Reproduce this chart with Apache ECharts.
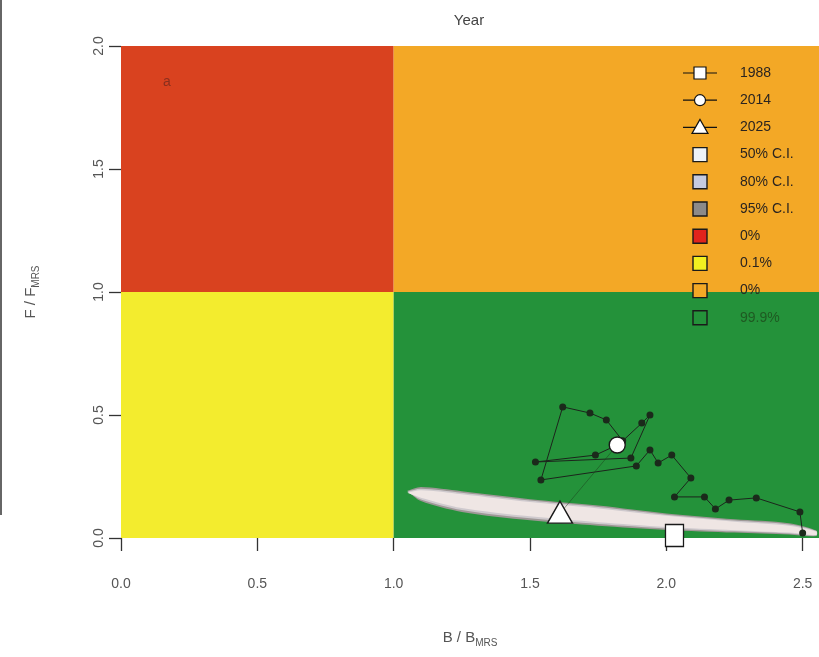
<!DOCTYPE html>
<html>
<head>
<meta charset="utf-8">
<script src="https://cdn.jsdelivr.net/npm/echarts@6/dist/echarts.min.js"></script>
<style>
  html, body { margin: 0; padding: 0; background: #ffffff; }
  #chart { width: 819px; height: 657px; }
</style>
</head>
<body>
<div id="chart"></div>
<script>
// Kobe phase plot: stock status B/B_MRS against fishing pressure F/F_MRS

// Quadrant bounds: [B from, B to, F from, F to]
const zoneBounds = [
  [0, 1, 1, 2],
  [1, 2.56, 1, 2],
  [0, 1, 0, 1],
  [1, 2.56, 0, 1]
];
const zoneNames = ['0%', '0%', '0.1%', '99.9%'];

// Historical trajectory (B/B_MRS, F/F_MRS), ending at the 2014 point
const trajB = [2.50, 2.49, 2.33, 2.23, 2.18, 2.14, 2.03, 2.09, 2.02, 1.97, 1.94, 1.89,
               1.54, 1.62, 1.72, 1.78, 1.84, 1.91, 1.94, 1.87, 1.52, 1.74, 1.82];
const trajF = [0.02, 0.106, 0.163, 0.154, 0.118, 0.167, 0.167, 0.244, 0.337, 0.305, 0.358, 0.293,
               0.236, 0.533, 0.508, 0.480, 0.395, 0.467, 0.500, 0.325, 0.309, 0.337, 0.378];

// Projection from 2014 to 2025
const projB = [1.82, 1.61];
const projF = [0.378, 0.10];

// Highlighted years
const markYears = ['1988', '2014', '2025'];
const markB = [2.03, 1.82, 1.61];
const markF = [0.01, 0.378, 0.105];

// Confidence regions of the projected state: upper and lower edges
const ciB = [1.05, 1.10, 1.25, 1.50, 1.75, 2.00, 2.25, 2.45, 2.55];
const ci95Up = [0.192, 0.207, 0.190, 0.158, 0.132, 0.100, 0.076, 0.060, 0.030];
const ci95Lo = [0.192, 0.150, 0.106, 0.072, 0.050, 0.033, 0.022, 0.014, 0.008];
const ci80Up = [0.188, 0.200, 0.184, 0.152, 0.126, 0.095, 0.071, 0.055, 0.028];
const ci80Lo = [0.188, 0.157, 0.114, 0.080, 0.057, 0.039, 0.027, 0.018, 0.010];
const ci50Up = [0.184, 0.194, 0.178, 0.146, 0.120, 0.090, 0.066, 0.050, 0.026];
const ci50Lo = [0.184, 0.164, 0.122, 0.088, 0.064, 0.045, 0.032, 0.022, 0.012];

// Tick values
const xTicks = [0, 0.5, 1.0, 1.5, 2.0, 2.5];
const yTicks = [0, 0.5, 1.0, 1.5, 2.0];

const zoneColors = ['#d9421f', '#f3a826', '#f3ec2e', '#24923a'];

function band(up, lo) {
  const pts = [];
  for (let i = 0; i < ciB.length; i++) pts.push([ciB[i], up[i]]);
  for (let i = ciB.length - 1; i >= 0; i--) pts.push([ciB[i], lo[i]]);
  return pts;
}

function bandSeries(name, up, lo, fill) {
  const pts = band(up, lo);
  return {
    name: name,
    type: 'custom',
    coordinateSystem: 'cartesian2d',
    silent: true,
    z: 3,
    data: [0],
    renderItem: function (params, api) {
      return {
        type: 'polygon',
        shape: { points: pts.map(p => api.coord(p)), smooth: 0.3 },
        style: { fill: fill, stroke: null }
      };
    }
  };
}

const chart = echarts.init(document.getElementById('chart'), null, { renderer: 'canvas' });

const labelColor = '#555555';
const font = 'Liberation Sans, Arial, sans-serif';

// Legend rows drawn as graphics
const legendTop = 73, legendStep = 27.2, legendX = 683, legendTextX = 740;
const legendItems = [
  { kind: 'line', sym: 'square', text: '1988' },
  { kind: 'line', sym: 'circle', text: '2014' },
  { kind: 'line', sym: 'triangle', text: '2025' },
  { kind: 'box', fill: '#eef3f7', text: '50% C.I.' },
  { kind: 'box', fill: '#c6cbe0', text: '80% C.I.' },
  { kind: 'box', fill: '#8c8a88', text: '95% C.I.' },
  { kind: 'box', fill: '#e0231c', text: '0%' },
  { kind: 'box', fill: '#f2f020', text: '0.1%' },
  { kind: 'box', fill: '#f3a826', text: '0%' },
  { kind: 'box', fill: '#24923a', text: '99.9%' }
];
const legendGraphics = [];
legendItems.forEach((it, i) => {
  const cy = legendTop + i * legendStep;
  if (it.kind === 'line') {
    legendGraphics.push({ type: 'line', shape: { x1: legendX, y1: cy, x2: legendX + 34, y2: cy },
      style: { stroke: '#111', lineWidth: 1.2 }, z: 100 });
    const cx = legendX + 17;
    if (it.sym === 'square') {
      legendGraphics.push({ type: 'rect', shape: { x: cx - 6, y: cy - 6, width: 12, height: 12 },
        style: { fill: '#ffffff', stroke: '#111', lineWidth: 1.2 }, z: 101 });
    } else if (it.sym === 'circle') {
      legendGraphics.push({ type: 'circle', shape: { cx: cx, cy: cy, r: 5.5 },
        style: { fill: '#ffffff', stroke: '#111', lineWidth: 1.2 }, z: 101 });
    } else {
      legendGraphics.push({ type: 'polygon', shape: { points: [[cx, cy - 8], [cx - 8, cy + 6], [cx + 8, cy + 6]] },
        style: { fill: '#ffffff', stroke: '#111', lineWidth: 1.2 }, z: 101 });
    }
  } else {
    legendGraphics.push({ type: 'rect', shape: { x: legendX + 10, y: cy - 7, width: 14, height: 14 },
      style: { fill: it.fill, stroke: '#1a1a1a', lineWidth: 1.4 }, z: 100 });
  }
  legendGraphics.push({ type: 'text', x: legendTextX, y: cy, z: 100,
    style: { text: it.text, fill: i === 9 ? '#1f5a22' : '#2a2420', font: '14px ' + font,
      textVerticalAlign: 'middle', verticalAlign: 'middle' } });
});

const option = {
  backgroundColor: '#ffffff',
  animation: false,
  title: {
    text: 'Year',
    left: 464, top: 8, textAlign: 'center',
    textStyle: { color: '#444', fontSize: 15, fontWeight: 'normal', fontFamily: font }
  },
  grid: { left: 121, top: 46, width: 698, height: 492, containLabel: false },
  xAxis: {
    type: 'value', min: 0, max: 2.56, interval: 0.5,
    name: '{n|B / B}{s|MRS}',
    nameLocation: 'middle', nameGap: 90,
    nameTextStyle: {
      rich: {
        n: { fontSize: 15, color: '#555', fontFamily: font },
        s: { fontSize: 10, color: '#555', fontFamily: font, padding: [10, 0, 0, 0] }
      }
    },
    splitLine: { show: false },
    axisLine: { show: false },
    axisTick: { show: true, inside: false, length: 13, customValues: xTicks,
      lineStyle: { color: '#333', width: 1.3 } },
    axisLabel: { customValues: xTicks, margin: 39, color: labelColor, fontSize: 14, fontFamily: font,
      formatter: v => v.toFixed(1) }
  },
  yAxis: {
    type: 'value', min: 0, max: 2, interval: 0.5,
    name: '{n|F / F}{s|MRS}',
    nameLocation: 'middle', nameGap: 80, nameRotate: 90,
    nameTextStyle: {
      rich: {
        n: { fontSize: 15, color: '#555', fontFamily: font },
        s: { fontSize: 10, color: '#555', fontFamily: font, padding: [10, 0, 0, 0] }
      }
    },
    splitLine: { show: false },
    axisLine: { show: false },
    axisTick: { show: true, inside: false, length: 12, customValues: yTicks,
      lineStyle: { color: '#333', width: 1.3 } },
    axisLabel: { customValues: yTicks, rotate: 90, margin: 15, color: labelColor, fontSize: 14, fontFamily: font,
      formatter: v => v.toFixed(1) }
  },
  graphic: [
    { type: 'line', shape: { x1: 1, y1: 0, x2: 1, y2: 515 }, style: { stroke: '#333', lineWidth: 1.5 } },
    { type: 'text', x: 163, y: 75, z: 100,
      style: { text: 'a', fill: '#8a2f1e', font: '14px ' + font } }
  ].concat(legendGraphics),
  series: [
    {
      name: 'zones',
      type: 'custom',
      coordinateSystem: 'cartesian2d',
      silent: true,
      z: 1,
      data: zoneBounds.map((b, i) => [b[0], b[1], b[2], b[3], i]),
      renderItem: function (params, api) {
        const p0 = api.coord([api.value(0), api.value(3)]);
        const p1 = api.coord([api.value(1), api.value(2)]);
        return {
          type: 'rect',
          shape: { x: p0[0], y: p0[1], width: p1[0] - p0[0], height: p1[1] - p0[1] },
          style: { fill: zoneColors[api.value(4)] }
        };
      },
      encode: { x: [0, 1], y: [2, 3] }
    },
    bandSeries('95% C.I.', ci95Up, ci95Lo, '#9e9896'),
    bandSeries('80% C.I.', ci80Up, ci80Lo, '#cfcace'),
    bandSeries('50% C.I.', ci50Up, ci50Lo, '#efe6e4'),
    {
      name: 'trajectory',
      type: 'line',
      z: 5,
      data: trajB.map((b, i) => [b, trajF[i]]),
      symbol: 'circle',
      symbolSize: 7,
      itemStyle: { color: '#1b2a1b', opacity: 1 },
      lineStyle: { color: '#1c241c', width: 1 }
    },
    {
      name: 'projection',
      type: 'line',
      z: 5,
      data: projB.map((b, i) => [b, projF[i]]),
      symbol: 'none',
      lineStyle: { color: '#1c3a1c', width: 0.8, opacity: 0.6 }
    },
    {
      name: 'years',
      type: 'scatter',
      z: 6,
      data: markYears.map((y, i) => ({
        name: y,
        value: [markB[i], markF[i]],
        symbol: ['rect', 'circle', 'triangle'][i],
        symbolSize: [[18, 22], 16, [25, 22]][i]
      })),
      itemStyle: { color: '#ffffff', borderColor: '#1a1a1a', borderWidth: 1.4, opacity: 1 }
    }
  ]
};

chart.setOption(option);
</script>
</body>
</html>
